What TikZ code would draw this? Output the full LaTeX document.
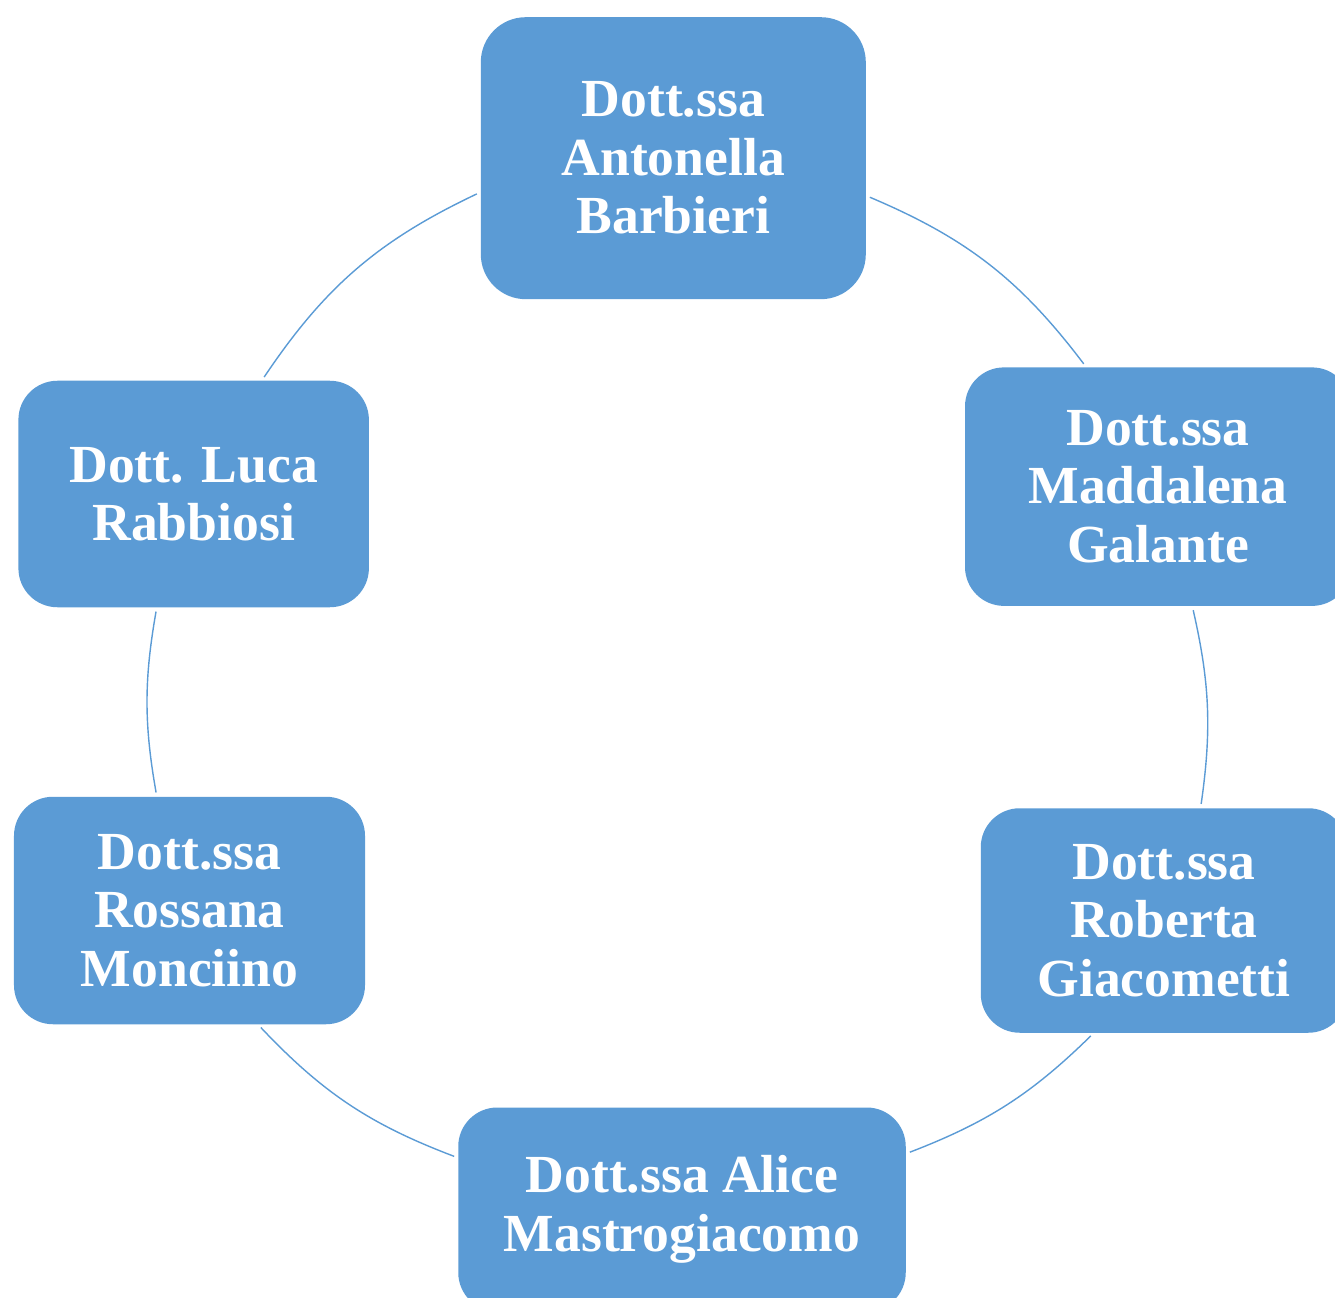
\documentclass[tikz,border=0pt]{standalone}
\usepackage{fontspec}
\setmainfont{Liberation Serif}
\usetikzlibrary{positioning}
\definecolor{cycleblue}{RGB}{91,155,213}

\begin{document}
\begin{tikzpicture}[
  member/.style={rectangle, rounded corners=0.78cm, fill=cycleblue, text=white, align=center, inner sep=0pt,
    font=\fontsize{30.5}{33.3}\selectfont\bfseries},
  ring/.style={draw=cycleblue, line width=0.8pt, shorten <=0.08cm, shorten >=0.08cm}]
\useasboundingbox (0,0) rectangle (26.7,-25.96);
\node[member, rounded corners=0.9cm, minimum width=7.70cm, minimum height=5.64cm] (barbieri) at (13.466,-3.164) {Dott.ssa\\Antonella\\Barbieri};
\node[member, minimum width=7.72cm, minimum height=4.77cm] (galante) at (23.16,-9.733) {Dott.ssa\\Maddalena\\Galante};
\node[member, minimum width=7.33cm, minimum height=4.49cm] (giacometti) at (23.28,-18.41) {Dott.ssa\\Roberta\\Giacometti};
\node[member, minimum width=8.95cm, minimum height=4.08cm] (mastrogiacomo) at (13.64,-24.19) {Dott.ssa Alice\\Mastrogiacomo};
\node[member, minimum width=7.02cm, minimum height=4.55cm] (monciino) at (3.79,-18.21) {Dott.ssa\\Rossana\\Monciino};
\node[member, minimum width=7.01cm, minimum height=4.53cm] (rabbiosi) at (3.873,-9.88) {Dott. Luca\\Rabbiosi};
\foreach \a/\sa/\b/\ea/\bnd in {barbieri/349.4/galante/121.9/15, galante/286.8/giacometti/72.5/10.5,
  giacometti/238.3/mastrogiacomo/14.6/11.7, mastrogiacomo/167.3/monciino/301.2/12.9,
  monciino/106.9/rabbiosi/252.7/10, rabbiosi/59.3/barbieri/190.8/15.4}
  \draw[ring] (\a.\sa) to[bend left=\bnd] (\b.\ea);
\end{tikzpicture}
\end{document}
